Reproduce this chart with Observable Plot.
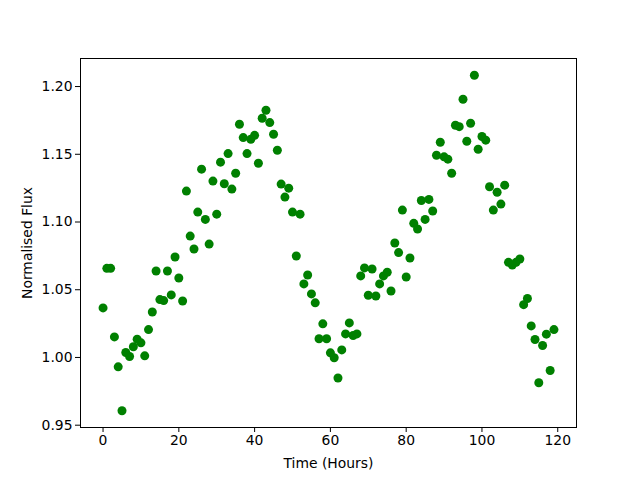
<!DOCTYPE html>
<html>
<head>
<meta charset="utf-8">
<script src="https://cdn.jsdelivr.net/npm/d3@7"></script>
<script src="https://cdn.jsdelivr.net/npm/@observablehq/plot@0.6"></script>
<style>
  html, body { margin: 0; padding: 0; background: #fff; }
  #chart svg { display: block; }
</style>
</head>
<body>
<div id="chart"></div>
<script>
const hours = d3.range(0, 120);
const flux = [
  1.0366, 1.0658, 1.0658, 1.0152, 0.9931, 0.9607, 1.0037, 1.0007, 1.0079, 1.0135,
  1.0108, 1.0012, 1.0206, 1.0336, 1.0638, 1.0427, 1.0420, 1.0638, 1.0462, 1.0742,
  1.0587, 1.0417, 1.1228, 1.0896, 1.0801, 1.1073, 1.1390, 1.1019, 1.0837, 1.1302,
  1.1058, 1.1442, 1.1282, 1.1505, 1.1243, 1.1360, 1.1722, 1.1623, 1.1505, 1.1611,
  1.1640, 1.1434, 1.1766, 1.1825, 1.1734, 1.1648, 1.1530, 1.1280, 1.1184, 1.1250,
  1.1073, 1.0749, 1.1058, 1.0543, 1.0609, 1.0469, 1.0403, 1.0138, 1.0248, 1.0138,
  1.0034, 0.9998, 0.9848, 1.0056, 1.0174, 1.0255, 1.0162, 1.0174, 1.0602, 1.0661,
  1.0459, 1.0653, 1.0454, 1.0543, 1.0602, 1.0629, 1.0491, 1.0845, 1.0774, 1.1088,
  1.0594, 1.0734, 1.0990, 1.0948, 1.1159, 1.1019, 1.1167, 1.1081, 1.1493, 1.1589,
  1.1481, 1.1464, 1.1360, 1.1714, 1.1704, 1.1906, 1.1596, 1.1729, 1.2083, 1.1537,
  1.1631, 1.1604, 1.1260, 1.1088, 1.1220, 1.1132, 1.1272, 1.0702, 1.0683, 1.0702,
  1.0727, 1.0390, 1.0435, 1.0233, 1.0133, 0.9813, 1.0088, 1.0172, 0.9904, 1.0206
];
const xTicks = [0, 20, 40, 60, 80, 100, 120];
const yTicks = [0.95, 1.00, 1.05, 1.10, 1.15, 1.20];

const data = hours.map((h, i) => ({hour: h, flux: flux[i]}));

const chart = Plot.plot({
  width: 640,
  height: 480,
  marginLeft: 80,
  marginRight: 64,
  marginTop: 58,
  marginBottom: 53,
  style: {fontFamily: "DejaVu Sans", fontSize: "13.9px", color: "#000", background: "#fff"},
  x: {domain: [-5.95, 124.95]},
  y: {domain: [0.9483, 1.2207]},
  marks: [
    Plot.frame({stroke: "#000", strokeWidth: 1}),
    Plot.axisX({ticks: xTicks, tickSize: 5, tickPadding: 3, label: "Time (Hours)", labelAnchor: "center", labelArrow: "none", labelOffset: 40, fontSize: 13.9}),
    Plot.axisY({ticks: yTicks, tickSize: 5, tickPadding: 3, tickFormat: d3.format(".2f"), label: "Normalised Flux", labelAnchor: "center", labelArrow: "none", labelOffset: 58, fontSize: 13.9}),
    Plot.dot(data, {x: "hour", y: "flux", r: 4.5, fill: "green", stroke: "none"})
  ]
});
document.getElementById("chart").appendChild(chart);
</script>
</body>
</html>
